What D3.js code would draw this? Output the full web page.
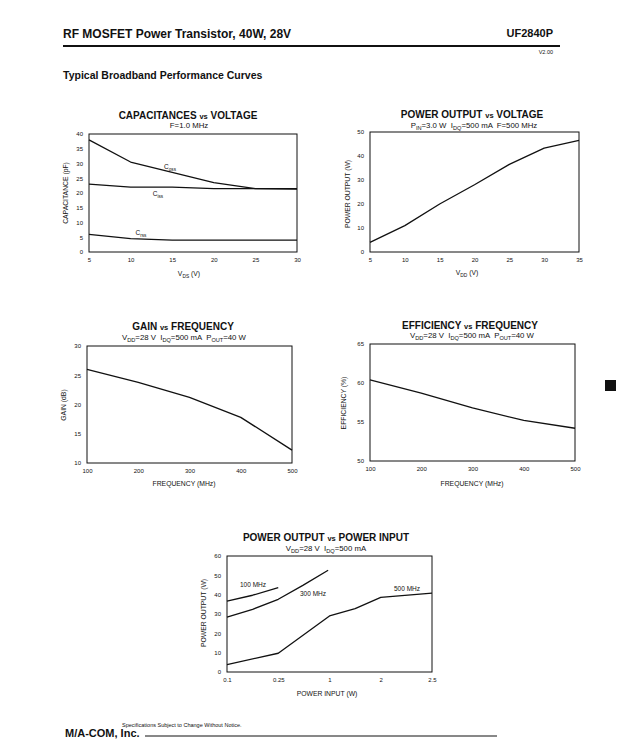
<!DOCTYPE html>
<html><head><meta charset="utf-8">
<script src="https://cdn.jsdelivr.net/npm/d3@7"></script>
<style>
body{margin:0;background:#fff;}
svg text{font-family:"Liberation Sans",Arial,Helvetica,sans-serif;fill:#111;white-space:pre;}
</style></head>
<body><svg id="c" width="625" height="740"></svg>
<script>
// ---- data ----
const capV = [5,10,15,20,25,30];
const coss = [38,30.5,27,23.5,21.5,21.5];
const ciss = [23,22,22,21.5,21.5,21.3];
const crss = [6,4.5,4,4,4,4];
const capTicksX = [5,10,15,20,25,30];
const capTicksY = [0,5,10,15,20,25,30,35,40];

const poutV = [5,10,15,20,25,30,35];
const poutW = [4,11,20,28,36.5,43.3,46.5];
const poutTicksX = [5,10,15,20,25,30,35];
const poutTicksY = [0,10,20,30,40,50];

const freq = [100,200,300,400,500];
const gainDb = [26,23.8,21.2,17.8,12.2];
const gainTicksY = [10,15,20,25,30];
const effPct = [60.4,58.7,56.8,55.2,54.2];
const effTicksY = [50,55,60,65];

const pinTicks = [0.1,0.25,1,2,2.5];
const pinTickLabels = ["0.1","0.25","1","2","2.5"];
const pin100X = [0.1,0.175,0.25];
const pin100Y = [36.6,39.7,43.6];
const pin300X = [0.1,0.175,0.25,0.61,0.98];
const pin300Y = [28.4,32.4,37.6,44.8,52.6];
const pin500X = [0.1,0.25,1,1.5,2,2.5];
const pin500Y = [3.8,9.7,29,32.8,38.6,40.8];
const pinTicksY = [0,10,20,30,40,50,60];

// ---- drawing ----
const svg = d3.select("#c");
const FONT = '"Liberation Sans",Arial,Helvetica,sans-serif';

function richText(g, x, y, parts, size, opts={}) {
  const t = g.append("text").attr("x", x).attr("y", y)
    .attr("font-size", size).attr("text-anchor", opts.anchor || "middle");
  if (opts.bold) t.attr("font-weight", "bold");
  if (opts.rotate) t.attr("transform", `rotate(-90,${x},${y})`);
  let pending = 0;
  parts.forEach(p => {
    if (typeof p === "string") {
      t.append("tspan").attr("dy", pending).text(p); pending = 0;
    } else if (p.sub) {
      const d = size * 0.3;
      t.append("tspan").attr("font-size", size * 0.72).attr("dy", pending + d).text(p.sub);
      pending = -d;
    } else if (p.small) {
      t.append("tspan").attr("font-size", size * 0.75).attr("dy", pending).text(p.small); pending = 0;
    }
  });
  return t;
}

function chart(cfg) {
  const g = svg.append("g");
  const x = cfg.xScale, y = cfg.yScale;
  const [x0, x1] = [cfg.rect[0], cfg.rect[1]];
  const [y0, y1] = [cfg.rect[2], cfg.rect[3]];
  const ax = g.append("g").attr("transform", `translate(0,${y1})`)
    .call(d3.axisBottom(x).tickValues(cfg.xTicks).tickSize(0).tickPadding(6)
      .tickFormat((d,i) => cfg.xLabels ? cfg.xLabels[i] : d));
  ax.select(".domain").remove();
  ax.selectAll("text").attr("font-size", 6).attr("font-family", FONT).attr("fill", "#111");
  const ay = g.append("g").attr("transform", `translate(${x0},0)`)
    .call(d3.axisLeft(y).tickValues(cfg.yTicks).tickSize(0).tickPadding(6));
  ay.select(".domain").remove();
  ay.selectAll("text").attr("font-size", 6).attr("font-family", FONT).attr("fill", "#111");
  g.append("rect").attr("x", x0).attr("y", y0).attr("width", x1 - x0).attr("height", y1 - y0)
    .attr("fill", "none").attr("stroke", "#111").attr("stroke-width", 1);
  const line = d3.line().x(d => x(d[0])).y(d => y(d[1]));
  cfg.series.forEach(s => {
    g.append("path").datum(s.xs.map((v,i) => [v, s.ys[i]])).attr("d", line)
      .attr("fill", "none").attr("stroke", "#111").attr("stroke-width", 1.3)
      .attr("stroke-linejoin", "round");
  });
  richText(g, cfg.title.x, cfg.title.y, cfg.title.parts, 10, {bold: true});
  richText(g, cfg.sub.x, cfg.sub.y, cfg.sub.parts, 7.8);
  richText(g, cfg.xt.x, cfg.xt.y, cfg.xt.parts, 6.8);
  richText(g, cfg.yt.x, cfg.yt.y, cfg.yt.parts, 6.8, {rotate: true});
  (cfg.labels || []).forEach(l => richText(g, l.x, l.y, l.parts, 6.5, {anchor: "middle"}));
  return g;
}

// Chart 1: capacitances
const c1x = d3.scaleLinear().domain([5,30]).range([89,297]);
const c1y = d3.scaleLinear().domain([0,40]).range([252,134]);
chart({
  xScale: c1x, yScale: c1y, rect: [89,297,134,252],
  xTicks: capTicksX, yTicks: capTicksY,
  series: [{xs: capV, ys: coss}, {xs: capV, ys: ciss}, {xs: capV, ys: crss}],
  title: {x: 188, y: 119, parts: ["CAPACITANCES ", {small: "vs"}, " VOLTAGE"]},
  sub: {x: 189, y: 128, parts: ["F=1.0 MHz"]},
  xt: {x: 189, y: 276, parts: ["V", {sub: "DS"}, " (V)"]},
  yt: {x: 68, y: 193, parts: ["CAPACITANCE (pF)"]},
  labels: [
    {x: 170, y: 169, parts: ["C", {sub: "oss"}]},
    {x: 158, y: 196, parts: ["C", {sub: "iss"}]},
    {x: 141, y: 235, parts: ["C", {sub: "rss"}]}
  ]
});

// Chart 2: power output vs voltage
const c2x = d3.scaleLinear().domain([5,35]).range([370,579]);
const c2y = d3.scaleLinear().domain([0,50]).range([252,132]);
chart({
  xScale: c2x, yScale: c2y, rect: [370,579,132,252],
  xTicks: poutTicksX, yTicks: poutTicksY,
  series: [{xs: poutV, ys: poutW}],
  title: {x: 472, y: 118, parts: ["POWER OUTPUT ", {small: "vs"}, " VOLTAGE"]},
  sub: {x: 474, y: 128, parts: ["P", {sub: "IN"}, "=3.0 W  I", {sub: "DQ"}, "=500 mA  F=500 MHz"]},
  xt: {x: 467, y: 275, parts: ["V", {sub: "DD"}, " (V)"]},
  yt: {x: 350, y: 194, parts: ["POWER OUTPUT (W)"]}
});

// Chart 3: gain vs frequency
const c3x = d3.scaleLinear().domain([100,500]).range([87,292]);
const c3y = d3.scaleLinear().domain([10,30]).range([463,346]);
chart({
  xScale: c3x, yScale: c3y, rect: [87,292,346,463],
  xTicks: freq, yTicks: gainTicksY,
  series: [{xs: freq, ys: gainDb}],
  title: {x: 183, y: 330, parts: ["GAIN ", {small: "vs"}, " FREQUENCY"]},
  sub: {x: 184, y: 340, parts: ["V", {sub: "DD"}, "=28 V  I", {sub: "DQ"}, "=500 mA  P", {sub: "OUT"}, "=40 W"]},
  xt: {x: 184, y: 486, parts: ["FREQUENCY (MHz)"]},
  yt: {x: 66, y: 405, parts: ["GAIN (dB)"]}
});

// Chart 4: efficiency vs frequency
const c4x = d3.scaleLinear().domain([100,500]).range([370,575]);
const c4y = d3.scaleLinear().domain([50,65]).range([461,344]);
chart({
  xScale: c4x, yScale: c4y, rect: [370,575,344,461],
  xTicks: freq, yTicks: effTicksY,
  series: [{xs: freq, ys: effPct}],
  title: {x: 470, y: 329, parts: ["EFFICIENCY ", {small: "vs"}, " FREQUENCY"]},
  sub: {x: 472, y: 338, parts: ["V", {sub: "DD"}, "=28 V  I", {sub: "DQ"}, "=500 mA  P", {sub: "OUT"}, "=40 W"]},
  xt: {x: 472, y: 486, parts: ["FREQUENCY (MHz)"]},
  yt: {x: 346, y: 403, parts: ["EFFICIENCY (%)"]}
});

// Chart 5: power output vs power input
const c5x = d3.scaleLinear().domain(pinTicks).range(pinTicks.map((d,i) => 227 + i*(432-227)/4));
const c5y = d3.scaleLinear().domain([0,60]).range([672,556]);
chart({
  xScale: c5x, yScale: c5y, rect: [227,432,556,672],
  xTicks: pinTicks, xLabels: pinTickLabels, yTicks: pinTicksY,
  series: [{xs: pin100X, ys: pin100Y}, {xs: pin300X, ys: pin300Y}, {xs: pin500X, ys: pin500Y}],
  title: {x: 326, y: 541, parts: ["POWER OUTPUT ", {small: "vs"}, " POWER INPUT"]},
  sub: {x: 326, y: 551, parts: ["V", {sub: "DD"}, "=28 V  I", {sub: "DQ"}, "=500 mA"]},
  xt: {x: 327, y: 696, parts: ["POWER INPUT (W)"]},
  yt: {x: 206, y: 613, parts: ["POWER OUTPUT (W)"]},
  labels: [
    {x: 253, y: 587, parts: ["100 MHz"]},
    {x: 313, y: 596, parts: ["300 MHz"]},
    {x: 407, y: 591, parts: ["500 MHz"]}
  ]
});

// ---- page header / footer ----
svg.append("text").attr("x", 63).attr("y", 38).attr("font-size", 12).attr("font-weight", "bold")
  .text("RF MOSFET Power Transistor, 40W, 28V");
svg.append("text").attr("x", 553).attr("y", 37).attr("font-size", 11).attr("font-weight", "bold")
  .attr("text-anchor", "end").text("UF2840P");
svg.append("line").attr("x1", 63).attr("x2", 560).attr("y1", 46).attr("y2", 46)
  .attr("stroke", "#111").attr("stroke-width", 2.2);
svg.append("text").attr("x", 553).attr("y", 54).attr("font-size", 5.5)
  .attr("text-anchor", "end").text("V2.00");
svg.append("text").attr("x", 63).attr("y", 79).attr("font-size", 10.5).attr("font-weight", "bold")
  .text("Typical Broadband Performance Curves");
svg.append("rect").attr("x", 605).attr("y", 380).attr("width", 11).attr("height", 11).attr("fill", "#111");
svg.append("text").attr("x", 122).attr("y", 727).attr("font-size", 5.5)
  .text("Specifications Subject to Change Without Notice.");
svg.append("text").attr("x", 65).attr("y", 737).attr("font-size", 11).attr("font-weight", "bold")
  .text("M/A-COM, Inc.");
svg.append("line").attr("x1", 145).attr("x2", 497).attr("y1", 736).attr("y2", 736)
  .attr("stroke", "#111").attr("stroke-width", 1);
</script></body></html>
